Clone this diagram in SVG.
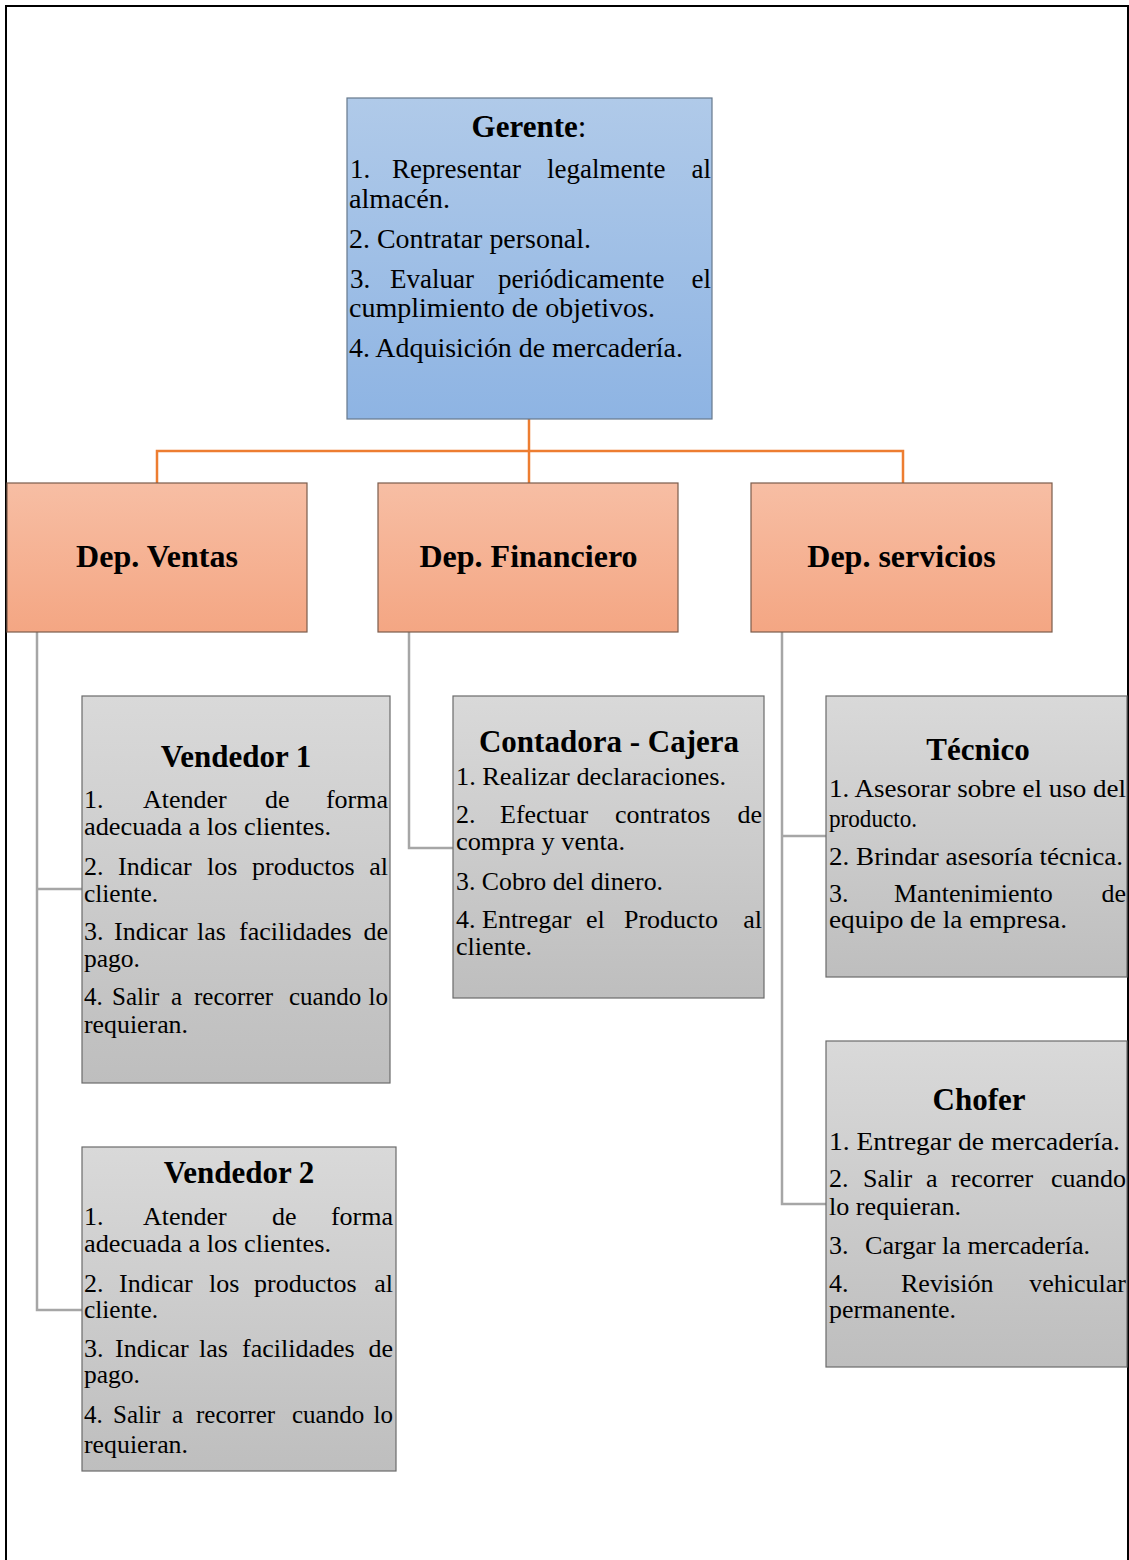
<svg xmlns="http://www.w3.org/2000/svg" width="1129" height="1560" viewBox="0 0 1129 1560">
<style>
.b{font-family:"Liberation Serif","Times New Roman",serif;font-size:26px;fill:#000}
.g{font-size:27px}
.s{font-size:25px}
.e{text-anchor:end}
.t{font-family:"Liberation Serif","Times New Roman",serif;font-size:31px;font-weight:bold;fill:#000;text-anchor:middle}
.d{font-family:"Liberation Serif","Times New Roman",serif;font-size:32px;font-weight:bold;fill:#000;text-anchor:middle}
.blue{fill:url(#gBlue);stroke:#66788c;stroke-width:1.2}
.org{fill:url(#gOrg);stroke:#7b5c4c;stroke-width:1.2}
.gry{fill:url(#gGry);stroke:#6b6b6b;stroke-width:1.2}
.co{fill:none;stroke:#ED7D31;stroke-width:2.5}
.cg{fill:none;stroke:#A6A6A6;stroke-width:2.5}
</style>
<defs>
<linearGradient id="gBlue" x1="0" y1="0" x2="0" y2="1"><stop offset="0" stop-color="#B0CAE9"/><stop offset="1" stop-color="#8EB4E3"/></linearGradient>
<linearGradient id="gOrg" x1="0" y1="0" x2="0" y2="1"><stop offset="0" stop-color="#F7BEA4"/><stop offset="1" stop-color="#F4A683"/></linearGradient>
<linearGradient id="gGry" x1="0" y1="0" x2="0" y2="1"><stop offset="0" stop-color="#D9D9D9"/><stop offset="1" stop-color="#BEBEBE"/></linearGradient>
</defs>
<rect width="1129" height="1560" fill="#fff"/>
<path d="M6,1560 V6 H1128 V1560" fill="none" stroke="#000" stroke-width="2"/>

<g id="connectors">
<path class="co" d="M529,419 V483"/>
<path class="co" d="M157,483 V451 H903 V483"/>
<path class="cg" d="M37,632 V1310 H82"/>
<path class="cg" d="M37,889 H82"/>
<path class="cg" d="M409,632 V848 H454"/>
<path class="cg" d="M782,632 V1204 H826"/>
<path class="cg" d="M782,836 H826"/>
</g>

<g id="gerente">
<rect class="blue" x="347" y="98" width="365" height="321"/>
<text class="t" x="529" y="137">Gerente<tspan font-weight="normal">:</tspan></text>
<text class="b g" y="178"><tspan x="350">1.</tspan><tspan x="392">Representar</tspan><tspan x="547">legalmente</tspan></text>
<text class="b g e" x="711" y="178">al</text>
<text class="b g" x="349" y="208" textLength="101" lengthAdjust="spacingAndGlyphs">almacén.</text>
<text class="b g" x="349" y="248" textLength="242" lengthAdjust="spacingAndGlyphs">2. Contratar personal.</text>
<text class="b g" y="288"><tspan x="350">3.</tspan><tspan x="390">Evaluar</tspan><tspan x="498">periódicamente</tspan></text>
<text class="b g e" x="711" y="288">el</text>
<text class="b g" x="349" y="317" textLength="306" lengthAdjust="spacingAndGlyphs">cumplimiento de objetivos.</text>
<text class="b g" x="349" y="357" textLength="334" lengthAdjust="spacingAndGlyphs">4. Adquisición de mercadería.</text>
</g>

<g id="dep-ventas">
<rect class="org" x="7" y="483" width="300" height="149"/>
<text class="d" x="157" y="567">Dep. Ventas</text>
</g>
<g id="dep-financiero">
<rect class="org" x="378" y="483" width="300" height="149"/>
<text class="d" x="528.5" y="567">Dep. Financiero</text>
</g>
<g id="dep-servicios">
<rect class="org" x="751" y="483" width="301" height="149"/>
<text class="d" x="901.5" y="567">Dep. servicios</text>
</g>

<g id="vendedor1">
<rect class="gry" x="82" y="696" width="308" height="387"/>
<text class="t" x="236" y="767">Vendedor 1</text>
<text class="b" y="808"><tspan x="84">1.</tspan><tspan x="143">Atender</tspan><tspan x="265">de</tspan></text>
<text class="b e" x="388" y="808">forma</text>
<text class="b" x="84" y="835" textLength="247" lengthAdjust="spacingAndGlyphs">adecuada a los clientes.</text>
<text class="b" y="875"><tspan x="84">2.</tspan><tspan x="118">Indicar</tspan><tspan x="207">los</tspan><tspan x="252">productos</tspan></text>
<text class="b e" x="388" y="875">al</text>
<text class="b" x="84" y="902" textLength="74" lengthAdjust="spacingAndGlyphs">cliente.</text>
<text class="b" y="940"><tspan x="84">3.</tspan><tspan x="114">Indicar</tspan><tspan x="197">las</tspan><tspan x="239">facilidades</tspan></text>
<text class="b e" x="388" y="940">de</text>
<text class="b" x="84" y="967" textLength="56" lengthAdjust="spacingAndGlyphs">pago.</text>
<text class="b s" y="1005"><tspan x="84">4.</tspan><tspan x="112">Salir</tspan><tspan x="171">a</tspan><tspan x="194">recorrer</tspan><tspan x="289">cuando</tspan></text>
<text class="b s e" x="388" y="1005">lo</text>
<text class="b" x="84" y="1033" textLength="104" lengthAdjust="spacingAndGlyphs">requieran.</text>
</g>

<g id="vendedor2">
<rect class="gry" x="82" y="1147" width="314" height="324"/>
<text class="t" x="239" y="1183">Vendedor 2</text>
<text class="b" y="1225"><tspan x="84">1.</tspan><tspan x="143">Atender</tspan><tspan x="272">de</tspan></text>
<text class="b e" x="393" y="1225">forma</text>
<text class="b" x="84" y="1252" textLength="247" lengthAdjust="spacingAndGlyphs">adecuada a los clientes.</text>
<text class="b" y="1292"><tspan x="84">2.</tspan><tspan x="119">Indicar</tspan><tspan x="209">los</tspan><tspan x="254">productos</tspan></text>
<text class="b e" x="393" y="1292">al</text>
<text class="b" x="84" y="1318" textLength="74" lengthAdjust="spacingAndGlyphs">cliente.</text>
<text class="b" y="1357"><tspan x="84">3.</tspan><tspan x="115">Indicar</tspan><tspan x="199">las</tspan><tspan x="242">facilidades</tspan></text>
<text class="b e" x="393" y="1357">de</text>
<text class="b" x="84" y="1383" textLength="56" lengthAdjust="spacingAndGlyphs">pago.</text>
<text class="b s" y="1423"><tspan x="84">4.</tspan><tspan x="113">Salir</tspan><tspan x="172">a</tspan><tspan x="196">recorrer</tspan><tspan x="292">cuando</tspan></text>
<text class="b s e" x="393" y="1423">lo</text>
<text class="b" x="84" y="1453" textLength="104" lengthAdjust="spacingAndGlyphs">requieran.</text>
</g>

<g id="contadora">
<rect class="gry" x="453" y="696" width="311" height="302"/>
<text class="t" x="609" y="752">Contadora - Cajera</text>
<text class="b" x="456" y="785" textLength="270" lengthAdjust="spacingAndGlyphs">1. Realizar declaraciones.</text>
<text class="b" y="823"><tspan x="456">2.</tspan><tspan x="500">Efectuar</tspan><tspan x="615">contratos</tspan></text>
<text class="b e" x="762" y="823">de</text>
<text class="b" x="456" y="850" textLength="169" lengthAdjust="spacingAndGlyphs">compra y venta.</text>
<text class="b" x="456" y="890" textLength="207" lengthAdjust="spacingAndGlyphs">3. Cobro del dinero.</text>
<text class="b" y="928"><tspan x="456">4.</tspan><tspan x="482">Entregar</tspan><tspan x="586">el</tspan><tspan x="624">Producto</tspan></text>
<text class="b e" x="762" y="928">al</text>
<text class="b" x="456" y="955" textLength="76" lengthAdjust="spacingAndGlyphs">cliente.</text>
</g>

<g id="tecnico">
<rect class="gry" x="826" y="696" width="301" height="281"/>
<text class="t" x="978" y="760">Técnico</text>
<text class="b" x="829" y="797" textLength="297" lengthAdjust="spacingAndGlyphs">1. Asesorar sobre el uso del</text>
<text class="b" x="829" y="827" textLength="88" lengthAdjust="spacingAndGlyphs">producto.</text>
<text class="b" x="829" y="865" textLength="294" lengthAdjust="spacingAndGlyphs">2. Brindar asesoría técnica.</text>
<text class="b" y="902"><tspan x="829">3.</tspan><tspan x="894">Mantenimiento</tspan></text>
<text class="b e" x="1126" y="902">de</text>
<text class="b" x="829" y="928" textLength="238" lengthAdjust="spacingAndGlyphs">equipo de la empresa.</text>
</g>

<g id="chofer">
<rect class="gry" x="826" y="1041" width="301" height="326"/>
<text class="t" x="979" y="1110">Chofer</text>
<text class="b" x="829" y="1150" textLength="291" lengthAdjust="spacingAndGlyphs">1. Entregar de mercadería.</text>
<text class="b" y="1187"><tspan x="829">2.</tspan><tspan x="863">Salir</tspan><tspan x="926">a</tspan><tspan x="951">recorrer</tspan></text>
<text class="b e" x="1126" y="1187">cuando</text>
<text class="b" x="829" y="1215" textLength="132" lengthAdjust="spacingAndGlyphs">lo requieran.</text>
<text class="b" y="1254"><tspan x="829">3.</tspan><tspan x="865" textLength="225" lengthAdjust="spacingAndGlyphs">Cargar la mercadería.</tspan></text>
<text class="b" y="1292"><tspan x="829">4.</tspan><tspan x="901">Revisión</tspan></text>
<text class="b e" x="1126" y="1292">vehicular</text>
<text class="b" x="829" y="1318" textLength="127" lengthAdjust="spacingAndGlyphs">permanente.</text>
</g>
</svg>
